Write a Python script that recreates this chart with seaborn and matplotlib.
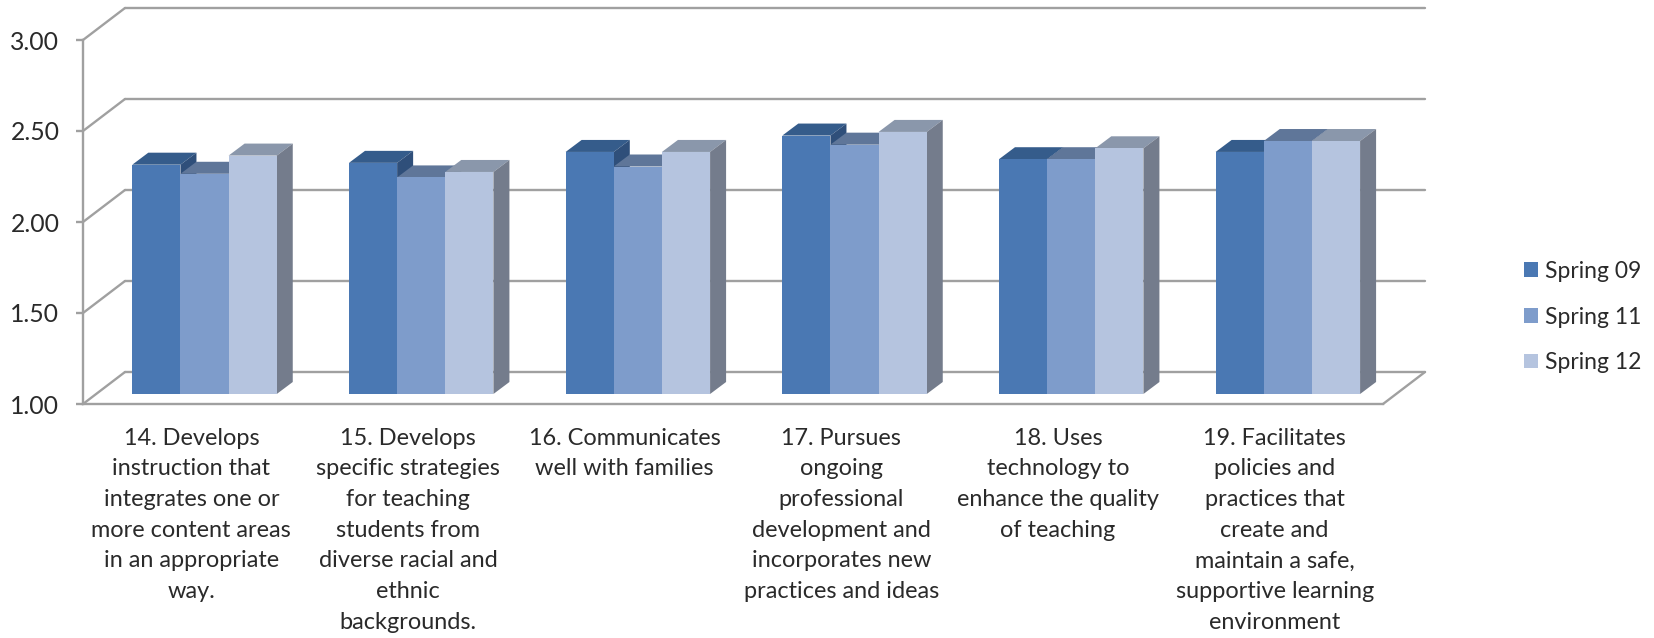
import matplotlib.pyplot as plt
import pandas as pd
import seaborn as sns
from matplotlib.patches import Polygon

items = [
    "14. Develops\ninstruction that\nintegrates one or\nmore content areas\nin an appropriate\nway.",
    "15. Develops\nspecific strategies\nfor teaching\nstudents from\ndiverse racial and\nethnic\nbackgrounds.",
    "16. Communicates\nwell with families",
    "17. Pursues\nongoing\nprofessional\ndevelopment and\nincorporates new\npractices and ideas",
    "18. Uses\ntechnology to\nenhance the quality\nof teaching",
    "19. Facilitates\npolicies and\npractices that\ncreate and\nmaintain a safe,\nsupportive learning\nenvironment",
]
terms = ["Spring 09", "Spring 11", "Spring 12"]
spring_09 = [2.26, 2.27, 2.33, 2.42, 2.29, 2.33]
spring_11 = [2.21, 2.19, 2.25, 2.37, 2.29, 2.39]
spring_12 = [2.31, 2.22, 2.33, 2.44, 2.35, 2.39]
y_ticks = [1.0, 1.5, 2.0, 2.5, 3.0]

front_colors = ["#4a78b3", "#7e9ccb", "#b5c4df"]
top_colors = ["#355c8b", "#5f7699", "#8a97ab"]
side_colors = ["#2f4f7a", "#56698a", "#747c8c"]
line_color = "#a0a0a0"
text_color = "#2a2a2a"

W, H = 1654, 638
PX_X = 6 / 1300  # data units per pixel
PX_Y = 2 / 364

sns.set_theme(style="white")
plt.rcParams["font.family"] = ["Lato", "DejaVu Sans"]

fig = plt.figure(figsize=(W / 100, H / 100), dpi=100)


def plane(left, base):
    ax = fig.add_axes([left / W, 1 - base / H, 1300 / W, 364 / H])
    ax.set_xlim(-0.5, 5.5)
    ax.set_ylim(1, 3)
    ax.patch.set_visible(False)
    return ax


# back wall: only the gridlines
ax_back = plane(125, 372)
ax_back.set_yticks(y_ticks)
ax_back.set_xticks([])
ax_back.tick_params(left=False, labelleft=False)
ax_back.grid(axis="y", color=line_color, lw=1.7, clip_on=False)
sns.despine(ax=ax_back, left=True, bottom=True)

# front plane: axis lines, ticks and labels
ax_front = plane(83, 404)
ax_front.set_yticks(y_ticks)
ax_front.set_yticklabels([f"{v:.2f}" for v in y_ticks], color=text_color, fontsize=17.8)
ax_front.set_xticks(range(len(items)))
ax_front.set_xticklabels(items, color=text_color, fontsize=16.9, linespacing=1.57)
ax_front.tick_params(axis="y", left=True, length=5, width=1.7, color=line_color, pad=12)
ax_front.tick_params(axis="x", bottom=False, pad=11)
sns.despine(ax=ax_front)
for side in ["left", "bottom"]:
    ax_front.spines[side].set_color(line_color)
    ax_front.spines[side].set_linewidth(1.7)

# diagonals that join the front plane to the back wall
for v in y_ticks:
    ax_front.plot([-0.5, -0.5 + 42 * PX_X], [v, v + 32 * PX_Y], color=line_color, lw=1.7, clip_on=False)
ax_front.plot([5.5, 5.5 + 42 * PX_X], [1, 1 + 32 * PX_Y], color=line_color, lw=1.7, clip_on=False)

# bars stand on a plane between the two
ax_bars = plane(96.2, 394)
scores = pd.DataFrame(
    {
        "item": items * 3,
        "term": [t for t in terms for _ in items],
        "score": spring_09 + spring_11 + spring_12,
    }
)
sns.barplot(
    data=scores,
    x="item",
    y="score",
    hue="term",
    palette=front_colors,
    saturation=1,
    width=2 / 3,
    gap=0,
    errorbar=None,
    linewidth=0,
    ax=ax_bars,
)
ax_bars.set_xlim(-0.5, 5.5)
ax_bars.set_ylim(1, 3)
ax_bars.set_xticks([])
ax_bars.set_yticks([])
ax_bars.set_xlabel("")
ax_bars.set_ylabel("")
sns.despine(ax=ax_bars, left=True, bottom=True)

dx, dy = 16 * PX_X, 12 * PX_Y
for i, bars in enumerate(ax_bars.containers):
    for rect in bars:
        rect.set_zorder(3 + 2 * i)
        x0 = rect.get_x()
        x1 = x0 + rect.get_width()
        v = rect.get_height()
        top = [(x0, v), (x0 + dx, v + dy), (x1 + dx, v + dy), (x1, v)]
        side = [(x1, 1), (x1 + dx, 1 + dy), (x1 + dx, v + dy), (x1, v)]
        ax_bars.add_patch(Polygon(top, color=top_colors[i], lw=0, zorder=2 + 2 * i))
        ax_bars.add_patch(Polygon(side, color=side_colors[i], lw=0, zorder=2 + 2 * i))

sns.move_legend(
    ax_bars,
    loc="center left",
    bbox_to_anchor=(1524 / W, 1 - 317 / H),
    bbox_transform=fig.transFigure,
    title=None,
    frameon=False,
    fontsize=16.5,
    labelcolor=text_color,
    borderpad=0,
    borderaxespad=0,
    handlelength=0.59,
    handleheight=0.59,
    handletextpad=0.32,
    labelspacing=1.08,
)

fig.savefig("out.png", dpi=100, facecolor="white")
